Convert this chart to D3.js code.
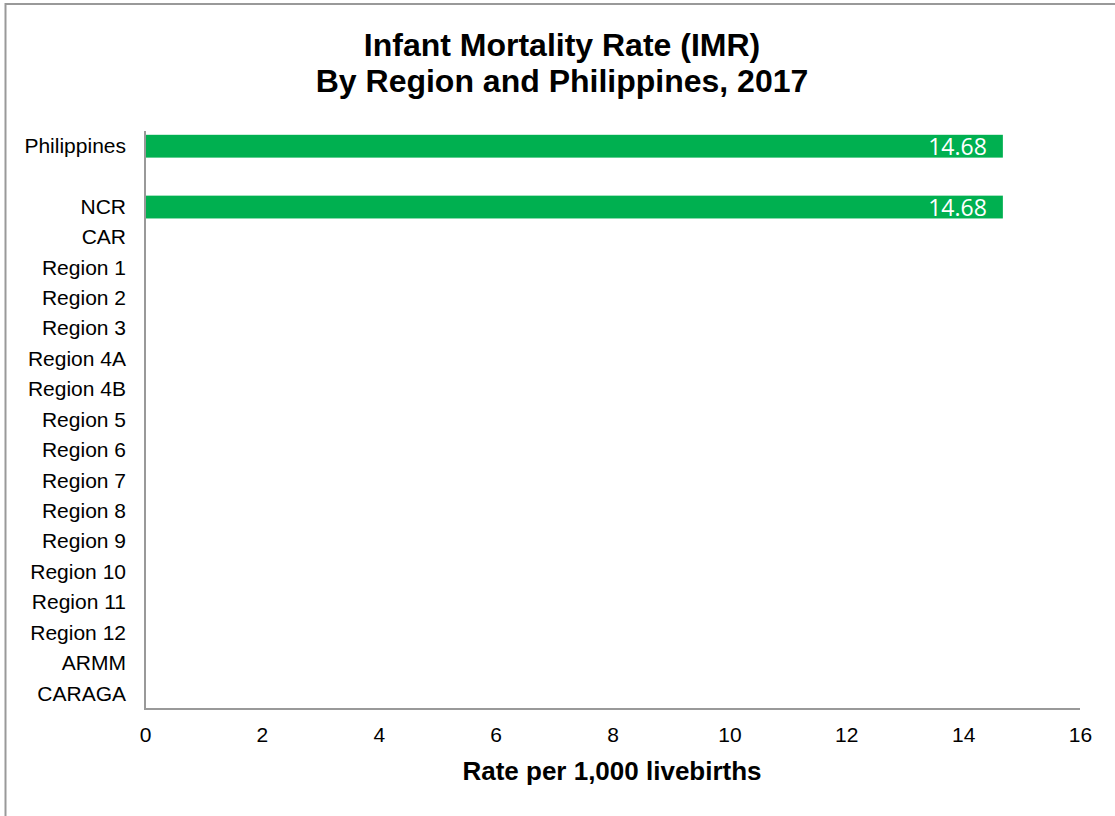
<!DOCTYPE html>
<html><head><meta charset="utf-8">
<script src="https://cdn.jsdelivr.net/npm/d3@7"></script>
<style>html,body{margin:0;padding:0;background:#fff;overflow:hidden}</style>
</head><body>
<svg id="chart" width="1115" height="816"></svg>
<script>
const categories = ["Philippines", "", "NCR", "CAR", "Region 1", "Region 2", "Region 3", "Region 4A", "Region 4B", "Region 5", "Region 6", "Region 7", "Region 8", "Region 9", "Region 10", "Region 11", "Region 12", "ARMM", "CARAGA"];
const values = [14.68, null, 14.68, null, null, null, null, null, null, null, null, null, null, null, null, null, null, null, null];
const xTicks = [0, 2, 4, 6, 8, 10, 12, 14, 16];
const titleLines = ["Infant Mortality Rate (IMR)", "By Region and Philippines, 2017"];
const xTitle = "Rate per 1,000 livebirths";

const svg = d3.select("#chart");
const m = {left: 145, right: 1080, top: 131, bottom: 709};

svg.append("rect").attr("x", 5.5).attr("y", 4).attr("width", 1130).attr("height", 830)
  .attr("fill", "#fff").attr("stroke", "#999").attr("stroke-width", 2);

const x = d3.scaleLinear().domain([0, 16]).range([m.left, m.right]);
const y = d3.scaleBand().domain(categories.map((c, i) => i)).range([m.top, m.bottom]).paddingInner(0.25).paddingOuter(0.125);

const rows = categories.map((c, i) => ({c, i, v: values[i]}));

svg.append("g").selectAll("rect").data(rows.filter(d => d.v != null)).join("rect")
  .attr("x", x(0)).attr("y", d => y(d.i)).attr("width", d => x(d.v) - x(0)).attr("height", y.bandwidth())
  .attr("fill", "#00B050");

svg.append("g").selectAll("text").data(rows.filter(d => d.v != null)).join("text")
  .attr("x", d => x(d.v) - 16).attr("y", d => y(d.i) + y.bandwidth() / 2 + 9)
  .attr("text-anchor", "end").attr("fill", "#fff")
  .style("font-family", "'Open Sans', Lato, sans-serif").style("font-size", "23px")
  .text(d => d.v.toFixed(2));

// y axis
const yAxis = d3.axisLeft(y).tickSize(0).tickPadding(19).tickFormat(i => categories[i]);
const gy = svg.append("g").attr("transform", `translate(${m.left},0)`).call(yAxis);
gy.select(".domain").remove();
gy.selectAll("text").style("font-family", "Arial, 'Liberation Sans', sans-serif").style("font-size", "21px").attr("fill", "#000");

// x axis
const xAxis = d3.axisBottom(x).tickValues(xTicks).tickSize(0).tickPadding(18).tickFormat(d3.format("d"));
const gx = svg.append("g").attr("transform", `translate(0,${m.bottom})`).call(xAxis);
gx.select(".domain").remove();
gx.selectAll("text").style("font-family", "Arial, 'Liberation Sans', sans-serif").style("font-size", "21px").attr("fill", "#000");

// axis lines
svg.append("path").attr("d", `M${m.left},${m.top}V${m.bottom}H${m.right}`)
  .attr("fill", "none").attr("stroke", "#999").attr("stroke-width", 2);

svg.append("g").selectAll("text").data(titleLines).join("text")
  .attr("x", 562).attr("y", (d, i) => 56 + i * 36).attr("text-anchor", "middle")
  .style("font-family", "Arial, 'Liberation Sans', sans-serif").style("font-size", "32px").style("font-weight", "bold")
  .text(d => d);

svg.append("text").attr("x", 612).attr("y", 780).attr("text-anchor", "middle")
  .style("font-family", "Arial, 'Liberation Sans', sans-serif").style("font-size", "26px").style("font-weight", "bold")
  .text(xTitle);
</script>
</body></html>
